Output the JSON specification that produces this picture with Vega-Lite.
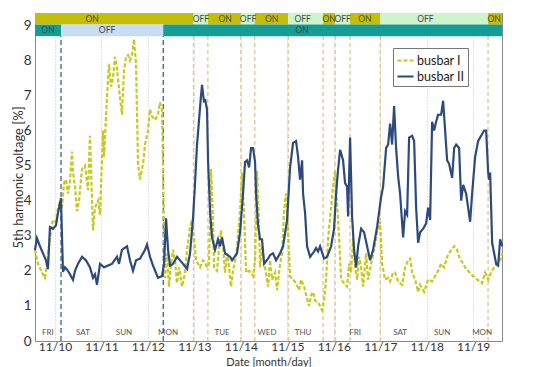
{
"$schema":"https://vega.github.io/schema/vega-lite/v6.json",
"width":467,"height":328,
"autosize":{"type":"none"},
"padding":{"left":35,"top":13,"right":47,"bottom":26},
"background":"white",
"config":{
 "font":"Lato",
 "view":{"stroke":"#8a8a8a","strokeWidth":1},
 "axis":{"gridColor":"#c4c4c4","gridDash":[1,2],"gridWidth":1,"domain":false,"ticks":false,"labelFont":"Lato","labelFontSize":13.5,"labelColor":"#333","titleFont":"Lato","titleFontWeight":"normal","titleColor":"#333","labelOverlap":false},
 "legend":{"orient":"none","legendX":358,"legendY":35,"fillColor":"white","strokeColor":"#777","padding":3,"labelFont":"Lato","labelFontSize":12.5,"labelColor":"#222","symbolType":"stroke","symbolSize":260,"symbolStrokeWidth":2.2,"rowPadding":0,"labelOffset":2}
},
"datasets":{
 "bus":[
{"s":"busbar I","t":9.569,"v":2.6},{"s":"busbar I","t":9.634,"v":2.2},{"s":"busbar I","t":9.72,"v":1.95},{"s":"busbar I","t":9.785,"v":1.8},{"s":"busbar I","t":9.828,"v":2.2},{"s":"busbar I","t":9.871,"v":2.7},{"s":"busbar I","t":9.914,"v":3.15},{"s":"busbar I","t":9.957,"v":3.45},{"s":"busbar I","t":10.022,"v":3.4},{"s":"busbar I","t":10.065,"v":3.8},{"s":"busbar I","t":10.108,"v":4.0},{"s":"busbar I","t":10.151,"v":3.8},{"s":"busbar I","t":10.194,"v":4.5},{"s":"busbar I","t":10.237,"v":4.6},{"s":"busbar I","t":10.28,"v":4.2},{"s":"busbar I","t":10.323,"v":4.55},{"s":"busbar I","t":10.366,"v":5.4},{"s":"busbar I","t":10.388,"v":4.8},{"s":"busbar I","t":10.431,"v":4.4},{"s":"busbar I","t":10.474,"v":3.7},{"s":"busbar I","t":10.517,"v":4.0},{"s":"busbar I","t":10.581,"v":4.9},{"s":"busbar I","t":10.646,"v":5.0},{"s":"busbar I","t":10.71,"v":4.3},{"s":"busbar I","t":10.753,"v":5.85},{"s":"busbar I","t":10.818,"v":3.15},{"s":"busbar I","t":10.861,"v":3.8},{"s":"busbar I","t":10.926,"v":4.0},{"s":"busbar I","t":10.969,"v":3.6},{"s":"busbar I","t":11.033,"v":6.0},{"s":"busbar I","t":11.055,"v":5.25},{"s":"busbar I","t":11.119,"v":6.95},{"s":"busbar I","t":11.163,"v":7.9},{"s":"busbar I","t":11.206,"v":7.25},{"s":"busbar I","t":11.249,"v":7.5},{"s":"busbar I","t":11.292,"v":8.1},{"s":"busbar I","t":11.335,"v":7.8},{"s":"busbar I","t":11.356,"v":7.45},{"s":"busbar I","t":11.399,"v":6.95},{"s":"busbar I","t":11.442,"v":6.45},{"s":"busbar I","t":11.485,"v":7.7},{"s":"busbar I","t":11.529,"v":8.1},{"s":"busbar I","t":11.572,"v":8.15},{"s":"busbar I","t":11.615,"v":8.0},{"s":"busbar I","t":11.658,"v":8.15},{"s":"busbar I","t":11.701,"v":8.6},{"s":"busbar I","t":11.744,"v":7.9},{"s":"busbar I","t":11.787,"v":5.05},{"s":"busbar I","t":11.83,"v":4.6},{"s":"busbar I","t":11.895,"v":5.05},{"s":"busbar I","t":11.938,"v":5.6},{"s":"busbar I","t":12.002,"v":6.0},{"s":"busbar I","t":12.045,"v":6.6},{"s":"busbar I","t":12.088,"v":6.4},{"s":"busbar I","t":12.153,"v":6.3},{"s":"busbar I","t":12.217,"v":6.45},{"s":"busbar I","t":12.26,"v":6.8},{"s":"busbar I","t":12.304,"v":6.6},{"s":"busbar I","t":12.325,"v":5.05},{"s":"busbar I","t":12.347,"v":3.0},{"s":"busbar I","t":12.368,"v":1.8},{"s":"busbar I","t":12.411,"v":2.5},{"s":"busbar I","t":12.454,"v":1.55},{"s":"busbar I","t":12.497,"v":2.2},{"s":"busbar I","t":12.54,"v":2.6},{"s":"busbar I","t":12.583,"v":2.3},{"s":"busbar I","t":12.626,"v":1.65},{"s":"busbar I","t":12.67,"v":2.1},{"s":"busbar I","t":12.734,"v":1.55},{"s":"busbar I","t":12.799,"v":1.95},{"s":"busbar I","t":12.842,"v":2.6},{"s":"busbar I","t":12.906,"v":3.25},{"s":"busbar I","t":12.949,"v":3.45},{"s":"busbar I","t":12.992,"v":2.9},{"s":"busbar I","t":13.036,"v":2.3},{"s":"busbar I","t":13.122,"v":2.1},{"s":"busbar I","t":13.186,"v":2.3},{"s":"busbar I","t":13.229,"v":2.25},{"s":"busbar I","t":13.272,"v":2.1},{"s":"busbar I","t":13.315,"v":2.2},{"s":"busbar I","t":13.358,"v":4.9},{"s":"busbar I","t":13.401,"v":3.45},{"s":"busbar I","t":13.423,"v":2.1},{"s":"busbar I","t":13.488,"v":2.0},{"s":"busbar I","t":13.531,"v":2.7},{"s":"busbar I","t":13.574,"v":3.15},{"s":"busbar I","t":13.617,"v":2.7},{"s":"busbar I","t":13.66,"v":1.95},{"s":"busbar I","t":13.703,"v":2.5},{"s":"busbar I","t":13.746,"v":2.1},{"s":"busbar I","t":13.789,"v":1.55},{"s":"busbar I","t":13.832,"v":2.0},{"s":"busbar I","t":13.875,"v":2.3},{"s":"busbar I","t":13.918,"v":2.7},{"s":"busbar I","t":13.983,"v":3.7},{"s":"busbar I","t":14.026,"v":4.8},{"s":"busbar I","t":14.069,"v":3.65},{"s":"busbar I","t":14.112,"v":1.95},{"s":"busbar I","t":14.177,"v":2.0},{"s":"busbar I","t":14.22,"v":1.95},{"s":"busbar I","t":14.263,"v":1.85},{"s":"busbar I","t":14.306,"v":2.3},{"s":"busbar I","t":14.349,"v":4.85},{"s":"busbar I","t":14.392,"v":3.25},{"s":"busbar I","t":14.413,"v":2.1},{"s":"busbar I","t":14.456,"v":2.7},{"s":"busbar I","t":14.521,"v":2.1},{"s":"busbar I","t":14.586,"v":1.55},{"s":"busbar I","t":14.629,"v":2.3},{"s":"busbar I","t":14.672,"v":1.75},{"s":"busbar I","t":14.736,"v":1.95},{"s":"busbar I","t":14.779,"v":1.45},{"s":"busbar I","t":14.844,"v":2.2},{"s":"busbar I","t":14.887,"v":2.5},{"s":"busbar I","t":14.93,"v":3.7},{"s":"busbar I","t":14.973,"v":4.2},{"s":"busbar I","t":15.016,"v":3.1},{"s":"busbar I","t":15.059,"v":1.85},{"s":"busbar I","t":15.124,"v":1.75},{"s":"busbar I","t":15.188,"v":1.65},{"s":"busbar I","t":15.253,"v":1.45},{"s":"busbar I","t":15.296,"v":1.75},{"s":"busbar I","t":15.361,"v":1.55},{"s":"busbar I","t":15.425,"v":1.2},{"s":"busbar I","t":15.468,"v":1.0},{"s":"busbar I","t":15.511,"v":1.3},{"s":"busbar I","t":15.554,"v":1.4},{"s":"busbar I","t":15.597,"v":1.15},{"s":"busbar I","t":15.662,"v":1.1},{"s":"busbar I","t":15.705,"v":1.0},{"s":"busbar I","t":15.748,"v":0.88},{"s":"busbar I","t":15.791,"v":1.15},{"s":"busbar I","t":15.834,"v":1.75},{"s":"busbar I","t":15.877,"v":2.9},{"s":"busbar I","t":15.942,"v":3.8},{"s":"busbar I","t":15.985,"v":4.4},{"s":"busbar I","t":16.028,"v":4.85},{"s":"busbar I","t":16.071,"v":3.9},{"s":"busbar I","t":16.114,"v":2.95},{"s":"busbar I","t":16.157,"v":1.75},{"s":"busbar I","t":16.222,"v":1.65},{"s":"busbar I","t":16.286,"v":1.55},{"s":"busbar I","t":16.329,"v":2.2},{"s":"busbar I","t":16.372,"v":1.95},{"s":"busbar I","t":16.415,"v":2.95},{"s":"busbar I","t":16.459,"v":2.1},{"s":"busbar I","t":16.502,"v":1.75},{"s":"busbar I","t":16.545,"v":2.4},{"s":"busbar I","t":16.588,"v":2.1},{"s":"busbar I","t":16.631,"v":1.55},{"s":"busbar I","t":16.695,"v":2.5},{"s":"busbar I","t":16.738,"v":1.75},{"s":"busbar I","t":16.803,"v":2.2},{"s":"busbar I","t":16.868,"v":2.6},{"s":"busbar I","t":16.932,"v":3.1},{"s":"busbar I","t":16.997,"v":3.4},{"s":"busbar I","t":17.04,"v":2.2},{"s":"busbar I","t":17.104,"v":1.75},{"s":"busbar I","t":17.169,"v":1.8},{"s":"busbar I","t":17.212,"v":1.7},{"s":"busbar I","t":17.277,"v":1.95},{"s":"busbar I","t":17.32,"v":1.95},{"s":"busbar I","t":17.384,"v":1.7},{"s":"busbar I","t":17.47,"v":1.6},{"s":"busbar I","t":17.535,"v":2.1},{"s":"busbar I","t":17.6,"v":2.3},{"s":"busbar I","t":17.643,"v":2.35},{"s":"busbar I","t":17.686,"v":1.95},{"s":"busbar I","t":17.75,"v":1.75},{"s":"busbar I","t":17.815,"v":1.4},{"s":"busbar I","t":17.858,"v":1.6},{"s":"busbar I","t":17.901,"v":1.5},{"s":"busbar I","t":17.944,"v":1.4},{"s":"busbar I","t":18.03,"v":1.75},{"s":"busbar I","t":18.116,"v":1.7},{"s":"busbar I","t":18.181,"v":1.85},{"s":"busbar I","t":18.245,"v":2.0},{"s":"busbar I","t":18.31,"v":2.2},{"s":"busbar I","t":18.375,"v":2.1},{"s":"busbar I","t":18.439,"v":2.4},{"s":"busbar I","t":18.504,"v":2.55},{"s":"busbar I","t":18.59,"v":2.7},{"s":"busbar I","t":18.654,"v":2.6},{"s":"busbar I","t":18.697,"v":2.4},{"s":"busbar I","t":18.762,"v":2.25},{"s":"busbar I","t":18.827,"v":2.1},{"s":"busbar I","t":18.913,"v":1.97},{"s":"busbar I","t":18.999,"v":1.85},{"s":"busbar I","t":19.085,"v":1.75},{"s":"busbar I","t":19.192,"v":1.65},{"s":"busbar I","t":19.257,"v":1.95},{"s":"busbar I","t":19.322,"v":1.75},{"s":"busbar I","t":19.386,"v":1.95},{"s":"busbar I","t":19.451,"v":2.1},{"s":"busbar I","t":19.516,"v":2.2},{"s":"busbar I","t":19.58,"v":2.3},{"s":"busbar I","t":19.623,"v":2.5},
{"s":"busbar II","t":9.569,"v":2.59},{"s":"busbar II","t":9.612,"v":2.93},{"s":"busbar II","t":9.677,"v":2.7},{"s":"busbar II","t":9.742,"v":2.5},{"s":"busbar II","t":9.806,"v":2.3},{"s":"busbar II","t":9.849,"v":2.05},{"s":"busbar II","t":9.892,"v":3.25},{"s":"busbar II","t":9.957,"v":3.2},{"s":"busbar II","t":10.022,"v":3.3},{"s":"busbar II","t":10.065,"v":3.65},{"s":"busbar II","t":10.129,"v":4.07},{"s":"busbar II","t":10.172,"v":1.97},{"s":"busbar II","t":10.215,"v":2.1},{"s":"busbar II","t":10.28,"v":2.0},{"s":"busbar II","t":10.323,"v":1.9},{"s":"busbar II","t":10.388,"v":1.74},{"s":"busbar II","t":10.431,"v":2.0},{"s":"busbar II","t":10.495,"v":2.2},{"s":"busbar II","t":10.581,"v":2.4},{"s":"busbar II","t":10.667,"v":2.3},{"s":"busbar II","t":10.753,"v":2.1},{"s":"busbar II","t":10.818,"v":1.8},{"s":"busbar II","t":10.861,"v":1.9},{"s":"busbar II","t":10.904,"v":1.6},{"s":"busbar II","t":10.969,"v":2.2},{"s":"busbar II","t":11.055,"v":2.1},{"s":"busbar II","t":11.141,"v":2.15},{"s":"busbar II","t":11.227,"v":2.2},{"s":"busbar II","t":11.335,"v":2.4},{"s":"busbar II","t":11.378,"v":2.2},{"s":"busbar II","t":11.442,"v":2.6},{"s":"busbar II","t":11.55,"v":2.7},{"s":"busbar II","t":11.615,"v":2.3},{"s":"busbar II","t":11.679,"v":2.0},{"s":"busbar II","t":11.744,"v":2.3},{"s":"busbar II","t":11.83,"v":2.35},{"s":"busbar II","t":11.938,"v":2.6},{"s":"busbar II","t":11.981,"v":2.75},{"s":"busbar II","t":12.045,"v":2.4},{"s":"busbar II","t":12.11,"v":2.15},{"s":"busbar II","t":12.217,"v":1.8},{"s":"busbar II","t":12.304,"v":1.85},{"s":"busbar II","t":12.347,"v":2.2},{"s":"busbar II","t":12.39,"v":3.5},{"s":"busbar II","t":12.433,"v":2.6},{"s":"busbar II","t":12.476,"v":2.15},{"s":"busbar II","t":12.54,"v":2.2},{"s":"busbar II","t":12.626,"v":2.4},{"s":"busbar II","t":12.756,"v":2.2},{"s":"busbar II","t":12.842,"v":2.05},{"s":"busbar II","t":12.906,"v":2.5},{"s":"busbar II","t":12.971,"v":3.5},{"s":"busbar II","t":13.014,"v":4.5},{"s":"busbar II","t":13.057,"v":5.6},{"s":"busbar II","t":13.1,"v":6.3},{"s":"busbar II","t":13.143,"v":7.0},{"s":"busbar II","t":13.165,"v":7.3},{"s":"busbar II","t":13.208,"v":6.8},{"s":"busbar II","t":13.229,"v":6.9},{"s":"busbar II","t":13.272,"v":6.6},{"s":"busbar II","t":13.294,"v":5.15},{"s":"busbar II","t":13.337,"v":3.7},{"s":"busbar II","t":13.38,"v":2.95},{"s":"busbar II","t":13.445,"v":2.6},{"s":"busbar II","t":13.509,"v":2.9},{"s":"busbar II","t":13.552,"v":2.7},{"s":"busbar II","t":13.595,"v":2.95},{"s":"busbar II","t":13.66,"v":2.5},{"s":"busbar II","t":13.768,"v":2.4},{"s":"busbar II","t":13.811,"v":2.3},{"s":"busbar II","t":13.918,"v":2.5},{"s":"busbar II","t":13.983,"v":3.1},{"s":"busbar II","t":14.047,"v":4.2},{"s":"busbar II","t":14.09,"v":5.1},{"s":"busbar II","t":14.133,"v":5.15},{"s":"busbar II","t":14.177,"v":4.95},{"s":"busbar II","t":14.22,"v":5.5},{"s":"busbar II","t":14.263,"v":5.5},{"s":"busbar II","t":14.306,"v":5.1},{"s":"busbar II","t":14.327,"v":4.2},{"s":"busbar II","t":14.37,"v":3.3},{"s":"busbar II","t":14.413,"v":2.9},{"s":"busbar II","t":14.456,"v":2.9},{"s":"busbar II","t":14.5,"v":2.2},{"s":"busbar II","t":14.586,"v":2.35},{"s":"busbar II","t":14.629,"v":2.45},{"s":"busbar II","t":14.693,"v":2.5},{"s":"busbar II","t":14.758,"v":2.3},{"s":"busbar II","t":14.844,"v":2.5},{"s":"busbar II","t":14.909,"v":2.7},{"s":"busbar II","t":14.995,"v":3.45},{"s":"busbar II","t":15.059,"v":4.95},{"s":"busbar II","t":15.124,"v":5.65},{"s":"busbar II","t":15.188,"v":5.7},{"s":"busbar II","t":15.231,"v":5.25},{"s":"busbar II","t":15.274,"v":4.6},{"s":"busbar II","t":15.318,"v":5.15},{"s":"busbar II","t":15.339,"v":4.2},{"s":"busbar II","t":15.382,"v":3.65},{"s":"busbar II","t":15.425,"v":2.7},{"s":"busbar II","t":15.49,"v":2.4},{"s":"busbar II","t":15.576,"v":2.55},{"s":"busbar II","t":15.619,"v":2.65},{"s":"busbar II","t":15.662,"v":2.55},{"s":"busbar II","t":15.705,"v":2.7},{"s":"busbar II","t":15.791,"v":2.35},{"s":"busbar II","t":15.856,"v":2.4},{"s":"busbar II","t":15.942,"v":2.7},{"s":"busbar II","t":16.006,"v":3.2},{"s":"busbar II","t":16.049,"v":4.2},{"s":"busbar II","t":16.093,"v":4.9},{"s":"busbar II","t":16.136,"v":5.45},{"s":"busbar II","t":16.2,"v":5.15},{"s":"busbar II","t":16.243,"v":4.5},{"s":"busbar II","t":16.286,"v":4.4},{"s":"busbar II","t":16.308,"v":3.55},{"s":"busbar II","t":16.351,"v":5.8},{"s":"busbar II","t":16.394,"v":3.55},{"s":"busbar II","t":16.437,"v":2.6},{"s":"busbar II","t":16.48,"v":2.1},{"s":"busbar II","t":16.523,"v":2.7},{"s":"busbar II","t":16.588,"v":3.2},{"s":"busbar II","t":16.652,"v":3.1},{"s":"busbar II","t":16.717,"v":2.7},{"s":"busbar II","t":16.781,"v":2.3},{"s":"busbar II","t":16.846,"v":2.6},{"s":"busbar II","t":16.932,"v":3.25},{"s":"busbar II","t":17.018,"v":4.1},{"s":"busbar II","t":17.061,"v":4.4},{"s":"busbar II","t":17.126,"v":5.5},{"s":"busbar II","t":17.169,"v":5.6},{"s":"busbar II","t":17.212,"v":6.2},{"s":"busbar II","t":17.255,"v":5.6},{"s":"busbar II","t":17.298,"v":6.7},{"s":"busbar II","t":17.341,"v":5.5},{"s":"busbar II","t":17.384,"v":4.7},{"s":"busbar II","t":17.427,"v":4.2},{"s":"busbar II","t":17.492,"v":2.95},{"s":"busbar II","t":17.535,"v":3.7},{"s":"busbar II","t":17.578,"v":3.6},{"s":"busbar II","t":17.621,"v":5.8},{"s":"busbar II","t":17.686,"v":5.85},{"s":"busbar II","t":17.729,"v":5.7},{"s":"busbar II","t":17.772,"v":3.8},{"s":"busbar II","t":17.815,"v":2.8},{"s":"busbar II","t":17.858,"v":3.1},{"s":"busbar II","t":17.923,"v":3.2},{"s":"busbar II","t":17.987,"v":3.35},{"s":"busbar II","t":18.03,"v":3.8},{"s":"busbar II","t":18.073,"v":3.45},{"s":"busbar II","t":18.116,"v":6.25},{"s":"busbar II","t":18.159,"v":6.0},{"s":"busbar II","t":18.202,"v":6.25},{"s":"busbar II","t":18.245,"v":6.45},{"s":"busbar II","t":18.31,"v":6.45},{"s":"busbar II","t":18.353,"v":6.85},{"s":"busbar II","t":18.396,"v":6.0},{"s":"busbar II","t":18.439,"v":5.15},{"s":"busbar II","t":18.482,"v":5.05},{"s":"busbar II","t":18.547,"v":4.65},{"s":"busbar II","t":18.59,"v":5.5},{"s":"busbar II","t":18.633,"v":5.6},{"s":"busbar II","t":18.697,"v":5.5},{"s":"busbar II","t":18.741,"v":4.0},{"s":"busbar II","t":18.784,"v":4.45},{"s":"busbar II","t":18.848,"v":4.2},{"s":"busbar II","t":18.934,"v":3.4},{"s":"busbar II","t":18.977,"v":4.2},{"s":"busbar II","t":19.042,"v":5.25},{"s":"busbar II","t":19.106,"v":5.7},{"s":"busbar II","t":19.192,"v":5.9},{"s":"busbar II","t":19.236,"v":6.0},{"s":"busbar II","t":19.279,"v":6.0},{"s":"busbar II","t":19.322,"v":4.8},{"s":"busbar II","t":19.343,"v":4.6},{"s":"busbar II","t":19.365,"v":4.8},{"s":"busbar II","t":19.408,"v":2.8},{"s":"busbar II","t":19.451,"v":2.5},{"s":"busbar II","t":19.494,"v":2.2},{"s":"busbar II","t":19.537,"v":2.15},{"s":"busbar II","t":19.58,"v":2.9},{"s":"busbar II","t":19.623,"v":2.7}
 ],
 "swI":[{"t":12.98},{"t":13.29},{"t":14.0},{"t":14.3},{"t":15.02},{"t":15.77},{"t":16.03},{"t":16.35},{"t":17.0},{"t":19.32}],
 "swII":[{"t":10.13},{"t":12.33}],
 "segI":[{"t":9.57,"t2":12.98,"k":"I ON"},{"t":12.98,"t2":13.29,"k":"I OFF"},{"t":13.29,"t2":14.0,"k":"I ON"},{"t":14.0,"t2":14.3,"k":"I OFF"},{"t":14.3,"t2":15.02,"k":"I ON"},{"t":15.02,"t2":15.77,"k":"I OFF"},{"t":15.77,"t2":16.03,"k":"I ON"},{"t":16.03,"t2":16.35,"k":"I OFF"},{"t":16.35,"t2":17.0,"k":"I ON"},{"t":17.0,"t2":19.32,"k":"I OFF"},{"t":19.32,"t2":19.62,"k":"I ON"}],
 "segII":[{"t":9.57,"t2":10.13,"k":"II ON"},{"t":10.13,"t2":12.33,"k":"II OFF"},{"t":12.33,"t2":19.62,"k":"II ON"}],
 "labI":[{"t":10.8,"l":"ON"},{"t":13.14,"l":"OFF"},{"t":13.66,"l":"ON"},{"t":14.155,"l":"OFF"},{"t":14.66,"l":"ON"},{"t":15.33,"l":"OFF"},{"t":15.9,"l":"ON"},{"t":16.19,"l":"OFF"},{"t":16.67,"l":"ON"},{"t":17.97,"l":"OFF"},{"t":19.45,"l":"ON"}],
 "labII":[{"t":9.85,"l":"ON"},{"t":11.12,"l":"OFF"},{"t":15.32,"l":"ON"}],
 "days":[{"t":9.849,"d":"FRI"},{"t":10.603,"d":"SAT"},{"t":11.485,"d":"SUN"},{"t":12.433,"d":"MON"},{"t":13.595,"d":"TUE"},{"t":14.564,"d":"WED"},{"t":15.339,"d":"THU"},{"t":16.459,"d":"FRI"},{"t":17.427,"d":"SAT"},{"t":18.331,"d":"SUN"},{"t":19.192,"d":"MON"}],
 "right":[{"n":"Cap. Bank I","b":"I"},{"n":"Cap. Bank II","b":"II"}]
},
"encoding":{
 "x":{"field":"t","type":"quantitative","scale":{"domain":[9.57,19.62],"nice":false,"zero":false},
  "axis":{"values":[10,11,12,13,14,15,16,17,18,19],"labelExpr":"'11/' + datum.value","title":"Date [month/day]","titleFontSize":11,"labelFontSize":12,"labelPadding":0,"titleBaseline":"alphabetic","titleY":24}}
},
"layer":[
 {"data":{"name":"swI"},"mark":{"type":"rule","strokeDash":[4,3],"color":"#e2c68e","strokeWidth":1.3},
  "encoding":{"y":{"datum":0,"type":"quantitative","scale":{"domain":[0,9.35],"nice":false,"zero":true},
    "axis":{"values":[0,1,2,3,4,5,6,7,8,9],"tickCount":10,"title":"5th harmonic voltage [%]","titleFontSize":13,"labelPadding":4,"titlePadding":-2}},"y2":{"datum":8.7}}},
 {"data":{"name":"swII"},"mark":{"type":"rule","strokeDash":[5,3],"color":"#3e6383","strokeWidth":1.3},
  "encoding":{"y":{"datum":0,"type":"quantitative","axis":{"values":[0,1,2,3,4,5,6,7,8,9],"tickCount":10}},"y2":{"datum":8.7}}},
 {"data":{"name":"bus"},"mark":{"type":"line","strokeWidth":2.2},
  "encoding":{
   "y":{"field":"v","type":"quantitative","scale":{"domain":[0,9.35],"nice":false,"zero":true},
    "axis":{"values":[0,1,2,3,4,5,6,7,8,9],"tickCount":10,"title":"5th harmonic voltage [%]","titleFontSize":13,"labelPadding":4,"titlePadding":-2}},
   "stroke":{"field":"s","type":"nominal","scale":{"domain":["busbar I","busbar II"],"range":["#c8c81e","#2c4a7c"]},"legend":{"title":null}},
   "strokeDash":{"field":"s","type":"nominal","scale":{"domain":["busbar I","busbar II"],"range":[[4,2],[1,0]]},"legend":{"title":null}},
   "order":{"field":"t","type":"quantitative"}
  }},
 {"data":{"name":"segI"},"mark":{"type":"rect"},
  "encoding":{"x2":{"field":"t2"},"y":{"datum":9.02,"type":"quantitative","axis":{"values":[0,1,2,3,4,5,6,7,8,9],"tickCount":10}},"y2":{"datum":9.35},
   "fill":{"field":"k","type":"nominal","scale":{"domain":["I ON","I OFF","II ON","II OFF"],"range":["#c4be08","#ccf5cc","#139d95","#c8dcf3"]},"legend":null}}},
 {"data":{"name":"segII"},"mark":{"type":"rect"},
  "encoding":{"x2":{"field":"t2"},"y":{"datum":8.69,"type":"quantitative","axis":{"values":[0,1,2,3,4,5,6,7,8,9],"tickCount":10}},"y2":{"datum":9.02},
   "fill":{"field":"k","type":"nominal","scale":{"domain":["I ON","I OFF","II ON","II OFF"],"range":["#c4be08","#ccf5cc","#139d95","#c8dcf3"]},"legend":null}}},
 {"data":{"name":"labI"},"mark":{"type":"text","fontSize":8.5,"color":"#4a4a4a","baseline":"middle"},
  "encoding":{"y":{"datum":9.185,"type":"quantitative","axis":{"values":[0,1,2,3,4,5,6,7,8,9],"tickCount":10}},"text":{"field":"l"}}},
 {"data":{"name":"labII"},"mark":{"type":"text","fontSize":8.5,"color":"#3a4a4a","baseline":"middle"},
  "encoding":{"y":{"datum":8.855,"type":"quantitative","axis":{"values":[0,1,2,3,4,5,6,7,8,9],"tickCount":10}},"text":{"field":"l"}}},
 {"data":{"name":"days"},"mark":{"type":"text","fontSize":8,"color":"#555","baseline":"middle"},
  "encoding":{"y":{"datum":0.24,"type":"quantitative","axis":{"values":[0,1,2,3,4,5,6,7,8,9],"tickCount":10}},"text":{"field":"d"}}},
 {"data":{"name":"right"},"transform":[{"filter":"datum.b == 'I'"}],"mark":{"type":"text","fontSize":10.5,"color":"#333","align":"left","baseline":"middle","dx":4},
  "encoding":{"x":{"datum":19.62,"type":"quantitative"},"y":{"datum":9.185,"type":"quantitative","axis":{"values":[0,1,2,3,4,5,6,7,8,9],"tickCount":10}},"text":{"field":"n"}}},
 {"data":{"name":"right"},"transform":[{"filter":"datum.b == 'II'"}],"mark":{"type":"text","fontSize":10.5,"color":"#333","align":"left","baseline":"middle","dx":4},
  "encoding":{"x":{"datum":19.62,"type":"quantitative"},"y":{"datum":8.855,"type":"quantitative","axis":{"values":[0,1,2,3,4,5,6,7,8,9],"tickCount":10}},"text":{"field":"n"}}}
]
}
